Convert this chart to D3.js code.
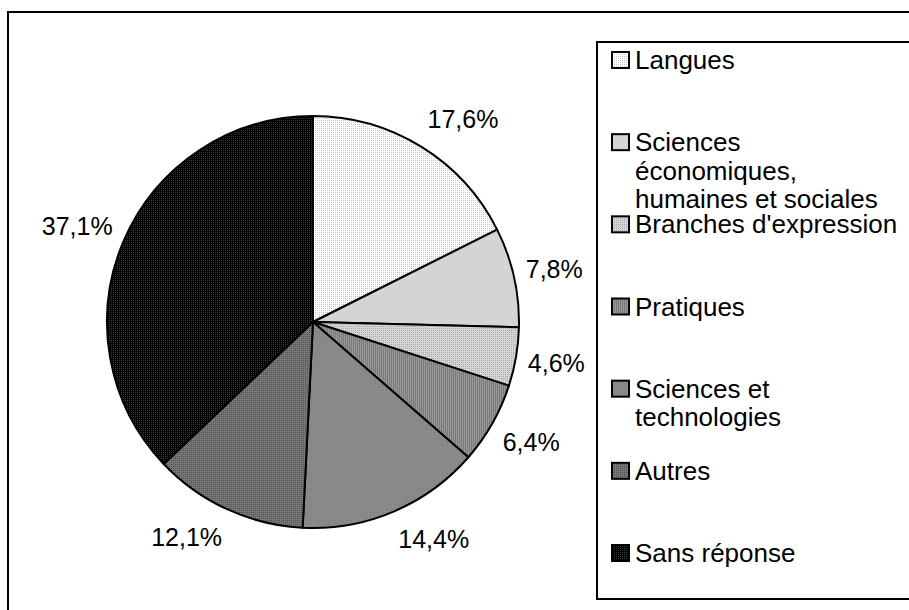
<!DOCTYPE html>
<html>
<head>
<meta charset="utf-8">
<script src="https://cdn.jsdelivr.net/npm/d3@7"></script>
<style>
  html, body { margin: 0; padding: 0; background: #fff; }
  svg { display: block; }
  text { font-family: "Liberation Sans", Arial, sans-serif; fill: #000; }
</style>
</head>
<body>
<svg id="chart" width="909" height="610"></svg>
<script>
// ---- data ----
const categories = ["Langues", "Sciences économiques, humaines et sociales", "Branches d'expression", "Pratiques", "Sciences et technologies", "Autres", "Sans réponse"];
const legendLines = [["Langues"], ["Sciences", "économiques,", "humaines et sociales"], ["Branches d'expression"], ["Pratiques"], ["Sciences et", "technologies"], ["Autres"], ["Sans réponse"]];
const values = [17.6, 7.8, 4.6, 6.4, 14.4, 12.1, 37.1];
const valueLabels = ["17,6%", "7,8%", "4,6%", "6,4%", "14,4%", "12,1%", "37,1%"];
// fill styles: [base, dot]
const fillBase = ["#ffffff", "#d4d4d4", "#d6d6d6", "#979797", "#8c8c8c", "#777777", "#000000"];
const fillDot  = ["#c4c4c4", "#d4d4d4", "#a8a8a8", "#7a7a7a", "#7e7e7e", "#505050", "#3a3a3a"];

const svg = d3.select("#chart");
const W = 909, H = 610;

// patterns
const defs = svg.append("defs");
fillBase.forEach((b, i) => {
  const p = defs.append("pattern").attr("id", "pat" + i)
    .attr("patternUnits", "userSpaceOnUse").attr("width", 2).attr("height", 2);
  p.append("rect").attr("width", 2).attr("height", 2).attr("fill", b);
  if (i === 3) {
    p.append("rect").attr("x", 0).attr("y", 0).attr("width", 1).attr("height", 2).attr("fill", fillDot[i]);
  } else {
    p.append("rect").attr("x", 0).attr("y", 0).attr("width", 1).attr("height", 1).attr("fill", fillDot[i]);
  }
});

// outer frame
svg.append("rect").attr("x", 8).attr("y", 12).attr("width", W + 20).attr("height", H + 20)
  .attr("fill", "none").attr("stroke", "#000").attr("stroke-width", 2);

// pie
const cx = 313, cy = 322, r = 206;
const pie = d3.pie().sort(null).value(d => d)(values);
const arc = d3.arc().innerRadius(0).outerRadius(r);
const g = svg.append("g").attr("transform", `translate(${cx},${cy})`);
g.selectAll("path").data(pie).join("path")
  .attr("d", arc)
  .attr("fill", (d, i) => `url(#pat${i})`)
  .attr("stroke", "#000").attr("stroke-width", 2).attr("stroke-linejoin", "round");

// labels: the label box's nearest corner sits at a fixed distance along the mid-angle
const labFs = 25, D = 218;
const clamp = v => Math.max(-1, Math.min(1, v));
const lab = g.selectAll("text.lab").data(pie).join("text").attr("class", "lab")
  .attr("font-size", labFs).attr("text-anchor", "middle")
  .text((d, i) => valueLabels[i]);
lab.each(function (d) {
  const bb = this.getBBox();
  const a = (d.startAngle + d.endAngle) / 2;
  const s = Math.sin(a), c = -Math.cos(a);
  const hh = 17;
  const x = D * s + (bb.width / 2) * clamp(3 * s);
  const y = D * c + hh * clamp(1.5 * c);
  d3.select(this).attr("x", x).attr("y", y + labFs * 0.35);
});

// legend
const legFs = 26;
const lx = 597, ly = 42, lh = 557;
svg.append("rect").attr("x", lx).attr("y", ly).attr("width", 400).attr("height", lh)
  .attr("fill", "#fff").attr("stroke", "#000").attr("stroke-width", 2);
const firstBase = 69, step = (562 - 69) / 6, lineH = 28.4;
const leg = svg.append("g");
legendLines.forEach((lines, i) => {
  const b = firstBase + i * step;
  leg.append("rect").attr("x", 612).attr("y", b - 17).attr("width", 17).attr("height", 16)
    .attr("fill", `url(#pat${i})`).attr("stroke", "#000").attr("stroke-width", 2);
  const t = leg.append("text").attr("x", 635).attr("y", b).attr("font-size", legFs);
  lines.forEach((ln, j) => {
    t.append("tspan").attr("x", 635).attr("y", b + j * lineH).text(ln);
  });
});
</script>
</body>
</html>
